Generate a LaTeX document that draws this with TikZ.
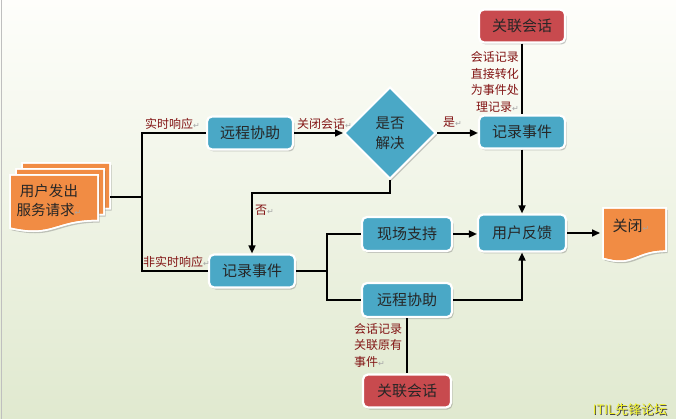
\documentclass[tikz,border=0pt]{standalone}
\usepackage{fontspec}
\setmainfont{Noto Sans CJK SC}
\newfontfamily\djv{DejaVu Sans}
\usetikzlibrary{shapes.geometric,shadows,arrows.meta,calc}
\definecolor{bluebox}{RGB}{74,168,198}
\definecolor{redbox}{RGB}{200,74,78}
\definecolor{orangedoc}{RGB}{241,140,68}
\definecolor{lblred}{RGB}{130,20,20}
\definecolor{bgtop}{RGB}{254,254,251}
\definecolor{bgbot}{RGB}{224,233,207}
\definecolor{wmyellow}{RGB}{240,240,40}
\newcommand\retmark{{\djv\color{black!35}\fontsize{8}{8}\selectfont ↵}}
\newcommand\docpath[4]{(#1,#2) -- (#1+#3,#2) -- (#1+#3,#2+0.8*#4) .. controls (#1+0.5*#3,#2+0.8*#4) and (#1+0.5*#3,#2+1.107*#4) .. (#1,#2+0.934*#4) -- cycle}
\tikzset{
 sh/.style={drop shadow={opacity=0.35,shadow xshift=1.5pt,shadow yshift=-2pt,fill=black!60}},
 boxb/.style={draw=white, line width=2.2pt, rounded corners=5pt, fill=bluebox, minimum width=86pt, minimum height=33pt, inner sep=1pt, font=\fontsize{15}{17}\selectfont, text=black!85, sh},
 boxr/.style={boxb, fill=redbox},
 dia/.style={diamond, draw=white, line width=2pt, fill=bluebox, minimum width=92pt, minimum height=92pt, aspect=1, inner sep=0pt, align=center, font=\fontsize{14.5}{20}\selectfont, text=black!85, sh},
 conn/.style={line width=1.6pt, black},
 arr/.style={conn, -{Triangle[length=8pt,width=7pt]}},
 lbl/.style={text=lblred, font=\fontsize{12}{16.5}\selectfont, inner sep=0pt},
 docs/.style={fill=orangedoc, draw=white, line width=1.5pt, sh},
}
\begin{document}
\begin{tikzpicture}[x=1pt,y=-1pt]
\useasboundingbox (0,0) rectangle (676,419);
\shade[top color=bgtop, bottom color=bgbot] (0,0) rectangle (676,419);
\draw[black!25, line width=1pt] (1,0) -- (1,419);

% request document (stacked)
\fill[docs] \docpath{22}{163}{88}{57};
\draw[white, line width=1.5pt] \docpath{22}{163}{88}{57};
\fill[docs] \docpath{16}{169}{88}{57};
\draw[white, line width=1.5pt] \docpath{16}{169}{88}{57};
\fill[docs] \docpath{10}{175}{88}{57};
\draw[white, line width=1.5pt] \docpath{10}{175}{88}{57};
\node[align=center, font=\fontsize{14.5}{19}\selectfont, text=black!85] (req) at (49,200) {用户发出\\服务请求\retmark};

% close document
\fill[docs] \docpath{603}{208}{63}{54};
\draw[white, line width=1.5pt] \docpath{603}{208}{63}{54};
\node[font=\fontsize{15}{17}\selectfont, text=black!85] (close) at (631,226) {关闭\retmark};

% boxes
\node[boxb] (rem1) at (250,133) {远程协助};
\node[dia] (dia) at (390,133) {是否\\解决};
\node[boxb] (rec1) at (522,132) {记录事件};
\node[boxr] (rel1) at (522,26) {关联会话};
\node[boxb] (rec2) at (252,271) {记录事件};
\node[boxb, minimum width=90pt, minimum height=34pt] (site) at (407,234) {现场支持};
\node[boxb, minimum width=90pt, minimum height=34pt] (rem2) at (407,300) {远程协助};
\node[boxb, minimum width=88pt, minimum height=37pt] (fb) at (522,233) {用户反馈};
\node[boxr, minimum width=88pt] (rel2) at (407,391) {关联会话};

% connectors
\coordinate (reqout) at (110,197);
\coordinate (spl) at (142,197);
\coordinate (spl2) at (327,271);
\coordinate (closein) at (600,233);
\draw[conn] (reqout) -- (spl);
\draw[conn] (rem1.west) -| (spl) |- (rec2.west);
\draw[arr] (rem1.east) -- (rem1.east -| dia.west);
\draw[arr] (dia.east) -- (dia.east -| rec1.west);
\draw[arr] (dia.south) -- ++(0,13) -| (rec2.north);
\draw[conn] (rel1.south) -- (rec1.north);
\draw[arr] (rec1.south) -- (fb.north);
\draw[conn] (rec2.east) -- (spl2);
\draw[conn] (site.west) -| (spl2) |- (rem2.west);
\draw[arr] (site.east) -- (site.east -| fb.west);
\draw[arr] (rem2.east) -| (fb.south);
\draw[conn] (rem2.south) -- (rel2.north);
\draw[arr] (fb.east) -- (closein);

% labels
\node[lbl, anchor=south west] (l1) at (145,130) {实时响应\retmark};
\node[lbl, anchor=south west] (l2) at (143,268) {非实时响应\retmark};
\node[lbl, anchor=south west] (l3) at (297,130) {关闭会话\retmark};
\node[lbl, anchor=south west] (l4) at (443,128) {是\retmark};
\node[lbl, anchor=west] (l5) at (255,210) {否\retmark};
\node[lbl, align=right, anchor=east] (l6) at (519,82) {会话记录\\直接转化\\为事件处\\理记录\retmark};
\node[lbl, align=left, anchor=west] (l7) at (354,345) {会话记录\\关联原有\\事件\retmark};

% watermark
\node[text=black!75, font=\fontsize{13}{14}\selectfont] (wm0) at (630.8,410.8) {ITIL先锋论坛};
\node[text=wmyellow, font=\fontsize{13}{14}\selectfont] (wm) at (630,410) {ITIL先锋论坛};
\end{tikzpicture}
\end{document}
